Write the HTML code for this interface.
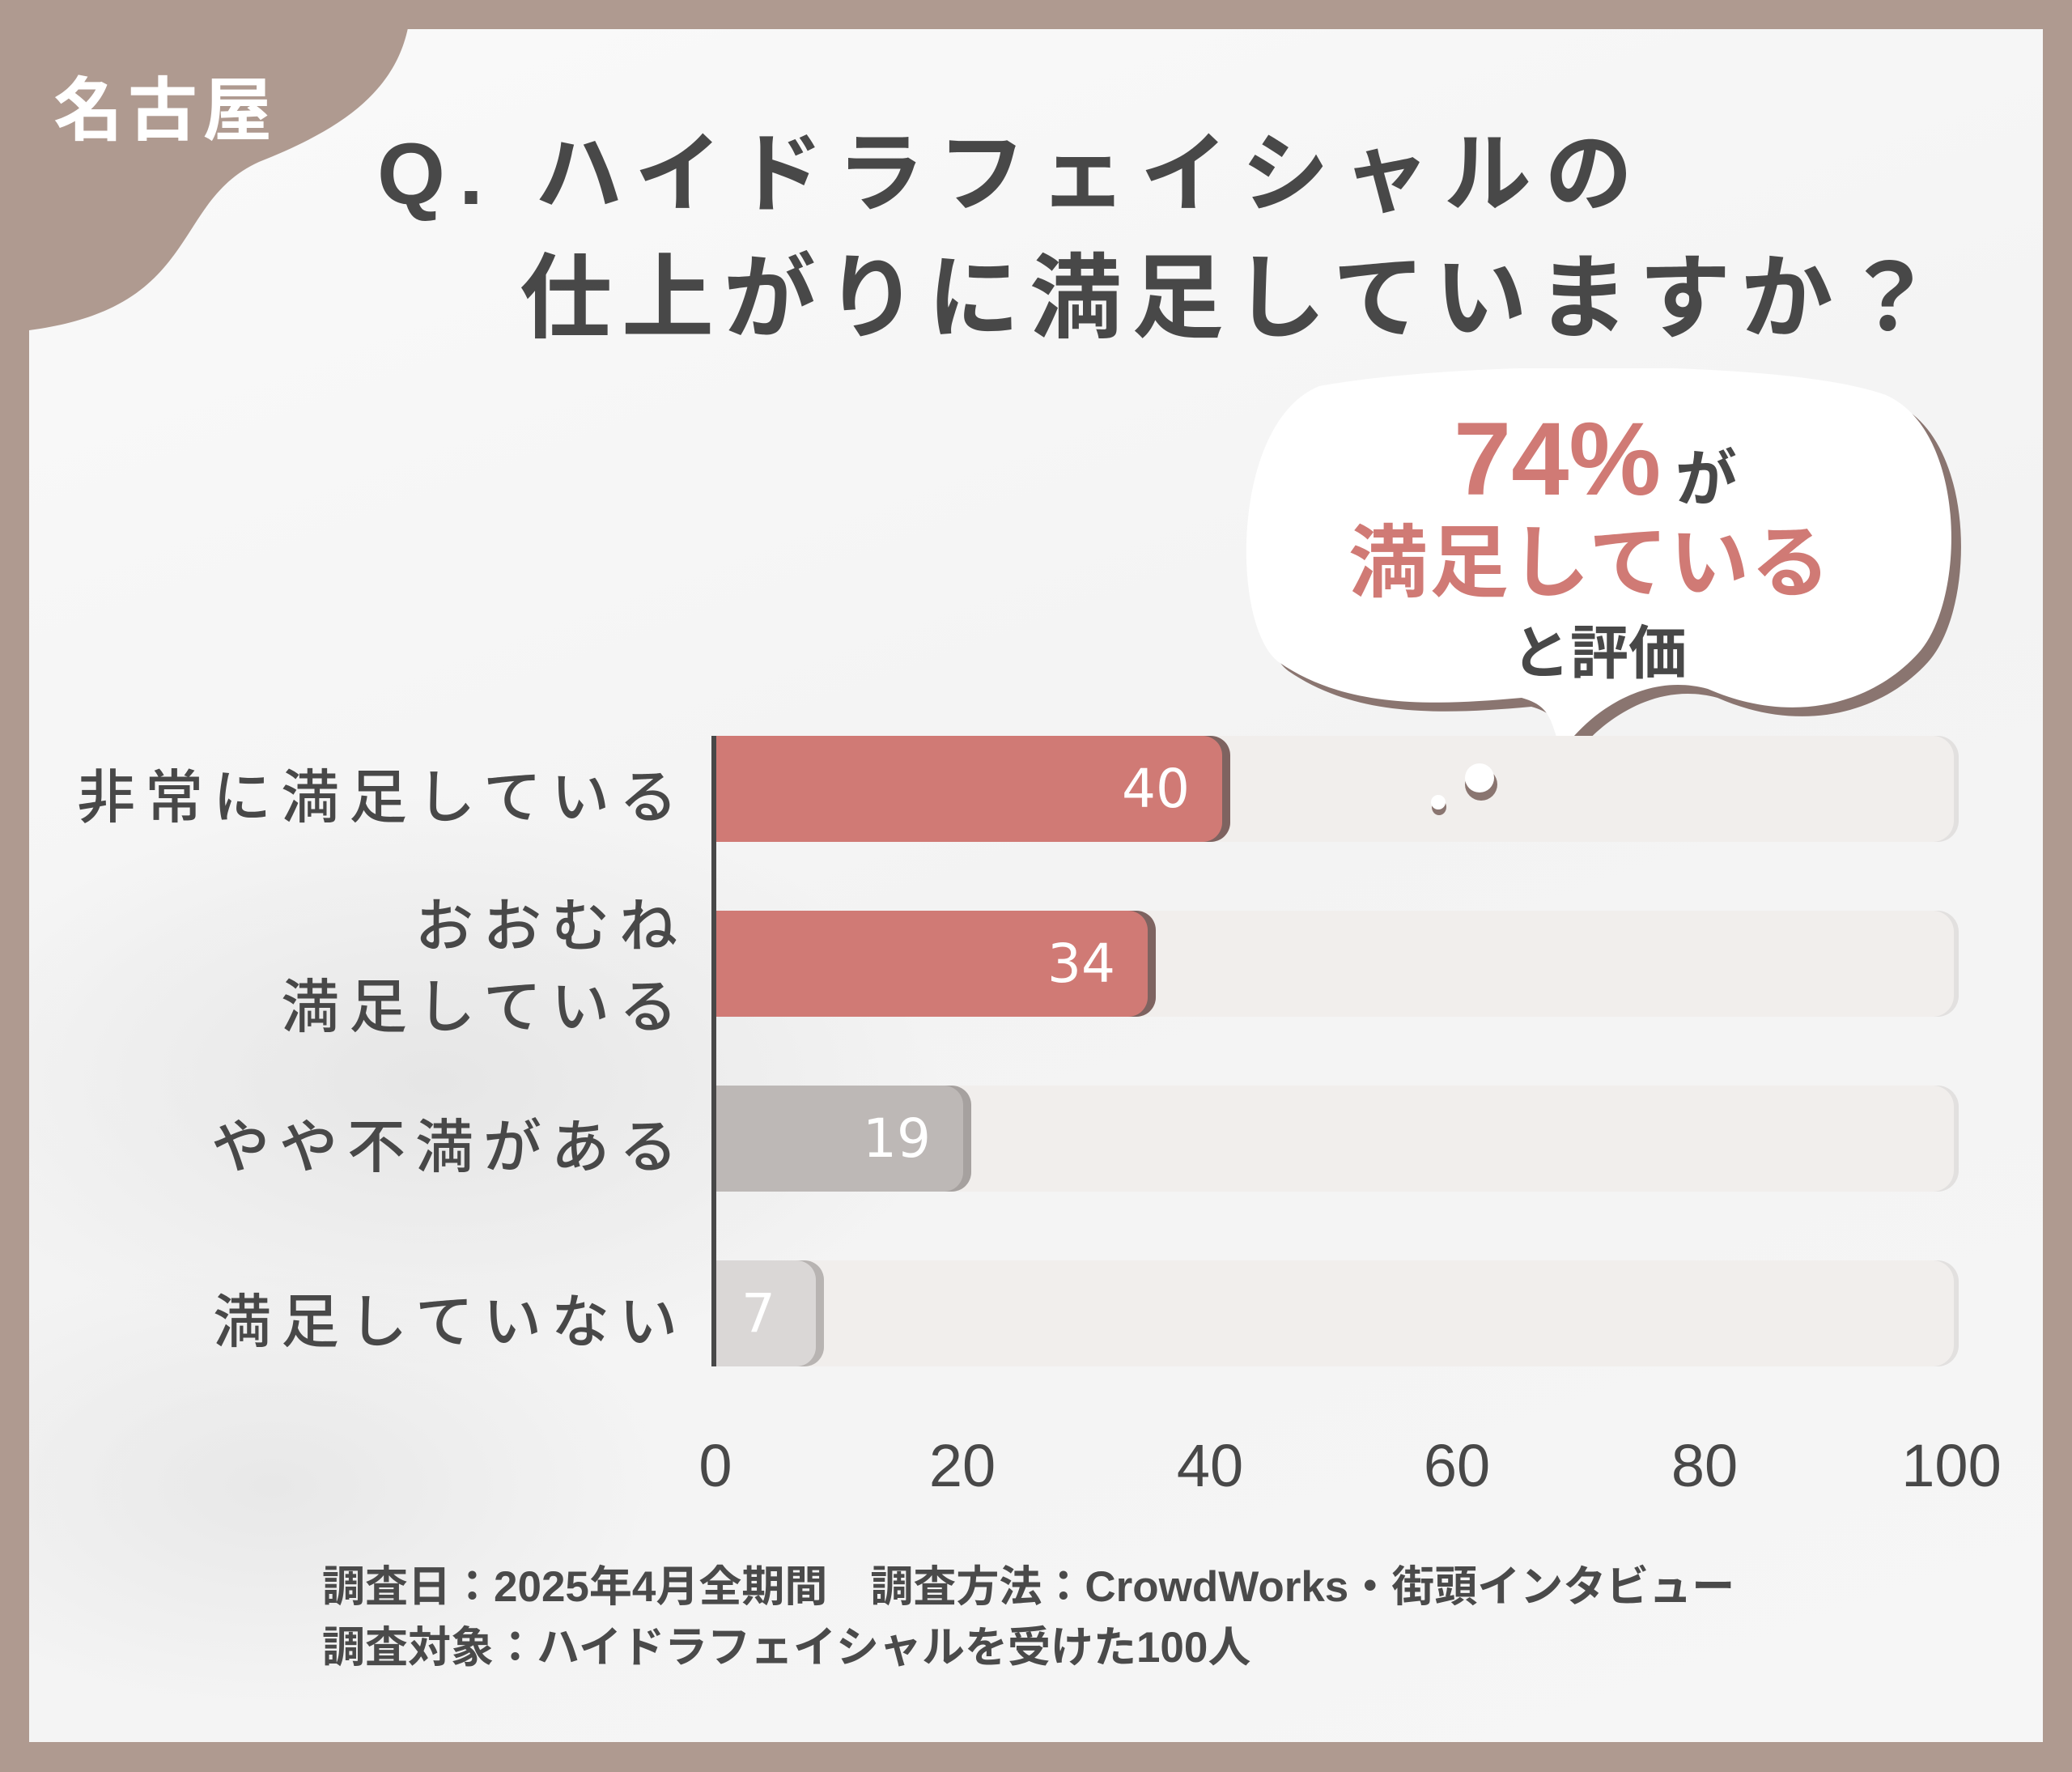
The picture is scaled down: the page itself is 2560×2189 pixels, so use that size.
<!DOCTYPE html>
<html><head><meta charset="utf-8">
<style>
*{margin:0;padding:0;box-sizing:border-box}
body{width:2560px;height:2189px;background:#af9a90;position:relative;overflow:hidden;font-family:"Liberation Sans","Noto Sans CJK JP",sans-serif}
#panel{position:absolute;left:36px;top:36px;width:2488px;height:2116px;overflow:hidden;
background:radial-gradient(ellipse 900px 500px at 500px 1300px,#e6e6e6 0%,rgba(240,240,240,0) 70%),
radial-gradient(ellipse 700px 400px at 300px 1800px,#e8e8e8 0%,rgba(240,240,240,0) 70%),
linear-gradient(160deg,#fafafa 0%,#f3f3f3 50%,#f6f6f6 100%)}
.t{position:absolute;white-space:nowrap;color:#484848;font-weight:bold}
.track{position:absolute;left:884px;width:1530px;height:131px;background:#f1eeec;border-radius:0 26px 26px 0;box-shadow:6px 0 0 #e2e0df}
.bar{position:absolute;left:884px;height:131px;border-radius:0 24px 24px 0;color:#fff;font-size:66px;text-align:right;padding-right:40px;line-height:131px;font-family:"DejaVu Sans","Noto Sans CJK JP",sans-serif}
.lab{position:absolute;right:1711px;text-align:right;font-size:72px;letter-spacing:12px;color:#484848;white-space:nowrap;font-weight:500}
.tick{position:absolute;top:1768px;font-size:74px;color:#484848;width:200px;text-align:center;margin-left:-100px}
</style></head><body>
<div id="panel"></div>
<svg style="position:absolute;left:0;top:0" width="520" height="420"><path d="M0 0 H508 C505 110 420 160 320 200 C210 250 250 380 36 408 L0 408 Z" fill="#af9a90"/></svg>
<div class="t" style="left:66px;top:66px;font-size:86px;color:#fff;letter-spacing:6px">名古屋</div>
<div class="t" style="left:466px;top:128px;font-size:108px;letter-spacing:17px">Q. ハイドラフェイシャルの</div>
<div class="t" style="left:642px;top:276px;font-size:114px;letter-spacing:12px">仕上がりに満足していますか？</div>

<svg style="position:absolute;left:1510px;top:455px" width="930" height="500">
<g transform="scale(1,1.1)">
<g transform="translate(12,10)" fill="#8a7570"><path d="M120 20 C300 -10 700 -10 820 30 C920 70 920 260 860 320 C800 380 700 400 600 360 C520 340 450 390 420 430 C405 400 410 380 370 370 C250 380 150 380 70 330 C10 290 10 60 120 20 Z"/></g>
<path d="M120 20 C300 -10 700 -10 820 30 C920 70 920 260 860 320 C800 380 700 400 600 360 C520 340 450 390 420 430 C405 400 410 380 370 370 C250 380 150 380 70 330 C10 290 10 60 120 20 Z" fill="#fff"/>
</g>
</svg>
<div class="t" style="left:1796px;top:494px;font-size:128px;color:#d07a75">74%</div>
<div class="t" style="left:2070px;top:530px;font-size:76px">が</div>
<div class="t" style="left:1666px;top:616px;font-size:98px;color:#d07a75;letter-spacing:2px">満足している</div>
<div class="t" style="left:1868px;top:748px;font-size:72px">と評価</div>

<div class="track" style="top:909px"></div>
<div class="track" style="top:1125px"></div>
<div class="track" style="top:1341px"></div>
<div class="track" style="top:1557px"></div>
<svg style="position:absolute;left:1760px;top:935px" width="100" height="80"><ellipse cx="70" cy="34" rx="20" ry="20" fill="#8a7570"/><ellipse cx="68" cy="26" rx="18" ry="18" fill="#fff"/><ellipse cx="18" cy="62" rx="9" ry="10" fill="#8a7570"/><ellipse cx="17" cy="56" rx="9" ry="9" fill="#fff"/></svg>
<div class="bar" style="top:909px;width:626px;background:#d07a75;box-shadow:10px 0 0 #7e6360">40</div>
<div class="bar" style="top:1125px;width:534px;background:#d07a75;box-shadow:10px 0 0 #7e6360">34</div>
<div class="bar" style="top:1341px;width:306px;background:#bdb8b6;box-shadow:10px 0 0 #a6a19f">19</div>
<div class="bar" style="top:1557px;width:124px;background:#dad7d6;box-shadow:10px 0 0 #b8b4b2;padding-right:50px">7</div>
<div style="position:absolute;left:879px;top:909px;width:6px;height:779px;background:#484848"></div>

<div class="lab" style="top:926px">非常に満足している</div>
<div class="lab" style="top:1095px;line-height:100px">おおむね<br>満足している</div>
<div class="lab" style="top:1358px">やや不満がある</div>
<div class="lab" style="top:1574px">満足していない</div>

<div class="tick" style="left:884px">0</div>
<div class="tick" style="left:1189px">20</div>
<div class="tick" style="left:1495px">40</div>
<div class="tick" style="left:1800px">60</div>
<div class="tick" style="left:2106px">80</div>
<div class="tick" style="left:2411px">100</div>

<div class="t" style="left:398px;top:1918px;font-size:53px;color:#4a4a4a">調査日：2025年4月全期間　調査方法：CrowdWorks・街頭インタビュー</div>
<div class="t" style="left:398px;top:1993px;font-size:53px;color:#4a4a4a">調査対象：ハイドラフェイシャルを受けた100人</div>
</body></html>
